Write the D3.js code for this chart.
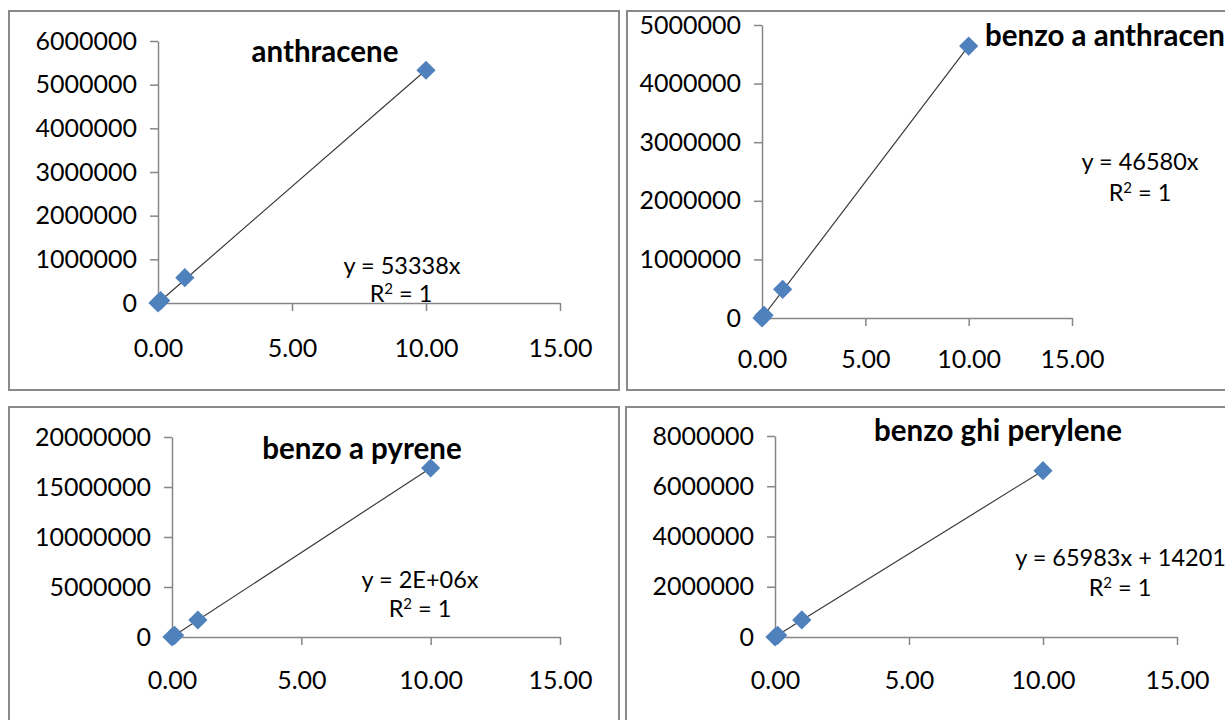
<!DOCTYPE html>
<html>
<head>
<meta charset="utf-8">
<script src="https://cdn.jsdelivr.net/npm/d3@7"></script>
<style>
  html, body { margin: 0; padding: 0; background: #fff; }
  svg { display: block; }
</style>
</head>
<body>
<svg id="chart" width="1225" height="720"></svg>
<script>
// ---------------- DATA ----------------
const concentrations = [0, 0.1, 1, 10];
const anthraceneArea = [0, 55000, 580000, 5330000];
const benzoAAnthraceneArea = [0, 46000, 490000, 4640000];
const benzoAPyreneArea = [0, 170000, 1700000, 16900000];
const benzoGhiPeryleneArea = [0, 66000, 680000, 6620000];

const chartTitles = ["anthracene", "benzo a anthracene", "benzo a pyrene", "benzo ghi perylene"];
const equationLabels = ["y = 53338x", "y = 46580x", "y = 2E+06x", "y = 65983x + 14201"];
const rSquaredValues = ["1", "1", "1", "1"];
const trendIntercept = [false, false, false, true];

const xTickValues = [0, 5, 10, 15];
const yTicksAnthracene = [0, 1000000, 2000000, 3000000, 4000000, 5000000, 6000000];
const yTicksBenzoAAnthracene = [0, 1000000, 2000000, 3000000, 4000000, 5000000];
const yTicksBenzoAPyrene = [0, 5000000, 10000000, 15000000, 20000000];
const yTicksBenzoGhiPerylene = [0, 2000000, 4000000, 6000000, 8000000];

// ---------------- LAYOUT ----------------
const layouts = [
  { frame: [9, 11, 610, 379], ox: 158, oy: 303, xEnd: 560, yTop: 41,
    title: { x: 325, y: 62, anchor: "middle" }, eq: { x: 402, y: 274, anchor: "middle" }, r2: { x: 401, y: 302 }, xLabelY: 357 },
  { frame: [627, 11, 610, 379], ox: 762, oy: 318, xEnd: 1072, yTop: 25,
    title: { x: 985, y: 46, anchor: "start" }, eq: { x: 1140, y: 170, anchor: "middle" }, r2: { x: 1140, y: 201 }, xLabelY: 368 },
  { frame: [9, 407, 610, 330], ox: 172, oy: 637, xEnd: 560, yTop: 437,
    title: { x: 362, y: 459, anchor: "middle" }, eq: { x: 420, y: 588, anchor: "middle" }, r2: { x: 420, y: 617 }, xLabelY: 689 },
  { frame: [626, 407, 610, 330], ox: 775, oy: 637, xEnd: 1177, yTop: 436,
    title: { x: 998, y: 441, anchor: "middle" }, eq: { x: 1226, y: 566, anchor: "end" }, r2: { x: 1120, y: 596 }, xLabelY: 689 }
];

const seriesList = [anthraceneArea, benzoAAnthraceneArea, benzoAPyreneArea, benzoGhiPeryleneArea];
const yTickList = [yTicksAnthracene, yTicksBenzoAAnthracene, yTicksBenzoAPyrene, yTicksBenzoGhiPerylene];

const FONT = "Lato, 'Open Sans', sans-serif";
const AXIS_COLOR = "#868686";
const MARKER_COLOR = "#4F81BD";

const svg = d3.select("#chart");

function fitLine(xs, ys, withIntercept) {
  if (!withIntercept) {
    const sxy = d3.sum(xs, (x, i) => x * ys[i]);
    const sxx = d3.sum(xs, x => x * x);
    return { m: sxy / sxx, b: 0 };
  }
  const mx = d3.mean(xs), my = d3.mean(ys);
  const num = d3.sum(xs, (x, i) => (x - mx) * (ys[i] - my));
  const den = d3.sum(xs, x => (x - mx) * (x - mx));
  const m = num / den;
  return { m, b: my - m * mx };
}

layouts.forEach((L, i) => {
  const ys = seriesList[i];
  const yTicks = yTickList[i];
  const pts = concentrations.map((x, k) => ({ x, y: ys[k] }));

  const g = svg.append("g");

  // frame
  g.append("rect")
    .attr("x", L.frame[0]).attr("y", L.frame[1])
    .attr("width", L.frame[2]).attr("height", L.frame[3])
    .attr("fill", "#fff").attr("stroke", "#8a8a8a").attr("stroke-width", 2);

  const x = d3.scaleLinear().domain([0, 15]).range([L.ox, L.xEnd]);
  const y = d3.scaleLinear().domain([0, d3.max(yTicks)]).range([L.oy, L.yTop]);

  // y axis
  const yAxis = d3.axisLeft(y).tickValues(yTicks).tickSize(8).tickSizeOuter(0).tickPadding(13)
    .tickFormat(d3.format("d"));
  const ya = g.append("g").attr("transform", `translate(${L.ox},0)`).call(yAxis);
  // x axis
  const xAxis = d3.axisBottom(x).tickValues(xTickValues).tickSize(8).tickSizeOuter(0)
    .tickFormat(d3.format(".2f"));
  const xa = g.append("g").attr("transform", `translate(0,${L.oy})`).call(xAxis);

  [ya, xa].forEach(a => {
    a.select(".domain").attr("stroke", AXIS_COLOR).attr("stroke-width", 1.5);
    a.selectAll(".tick line").attr("stroke", AXIS_COLOR).attr("stroke-width", 1.5);
    a.selectAll(".tick text").attr("fill", "#000").attr("font-family", FONT).attr("font-size", 25);
  });
  xa.selectAll(".tick text").attr("y", null).attr("dy", null)
    .attr("transform", `translate(0,${L.xLabelY - L.oy})`);

  // trendline
  const fit = fitLine(concentrations, ys, trendIntercept[i]);
  const xr = d3.extent(concentrations);
  g.append("line")
    .attr("x1", x(xr[0])).attr("y1", y(fit.m * xr[0] + fit.b))
    .attr("x2", x(xr[1])).attr("y2", y(fit.m * xr[1] + fit.b))
    .attr("stroke", "#3a3a3a").attr("stroke-width", 1.2);

  // markers
  const diamond = d3.symbol().type(d3.symbolSquare).size(185);
  g.selectAll("path.pt").data(pts).join("path")
    .attr("class", "pt")
    .attr("d", diamond)
    .attr("transform", d => `translate(${x(d.x)},${y(d.y)}) rotate(45)`)
    .attr("fill", MARKER_COLOR);

  // title
  g.append("text")
    .attr("x", L.title.x).attr("y", L.title.y)
    .attr("text-anchor", L.title.anchor)
    .attr("font-family", FONT).attr("font-weight", "bold").attr("font-size", 29.5)
    .attr("fill", "#000")
    .text(chartTitles[i]);

  // equation
  g.append("text")
    .attr("x", L.eq.x).attr("y", L.eq.y)
    .attr("text-anchor", L.eq.anchor)
    .attr("font-family", FONT).attr("font-size", 23.5).attr("fill", "#000")
    .text(equationLabels[i]);

  const r = g.append("text")
    .attr("x", L.r2.x).attr("y", L.r2.y)
    .attr("text-anchor", "middle")
    .attr("font-family", FONT).attr("font-size", 23.5).attr("fill", "#000");
  r.append("tspan").text("R");
  r.append("tspan").attr("font-size", 15).attr("dy", -8).text("2");
  r.append("tspan").attr("dy", 8).text(" = " + rSquaredValues[i]);
});
</script>
</body>
</html>
